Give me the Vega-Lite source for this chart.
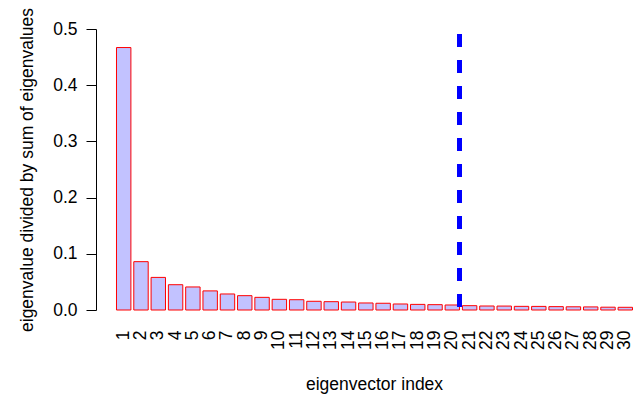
{
  "$schema": "https://vega.github.io/schema/vega-lite/v6.json",
  "autosize": "none",
  "padding": {"left": 96, "top": 29, "right": 0, "bottom": 86},
  "width": 544,
  "height": 281,
  "background": "white",
  "config": {
    "view": {"stroke": null},
    "font": "Liberation Sans",
    "axis": {"labelFont": "Liberation Sans", "titleFont": "Liberation Sans", "labelColor": "black", "titleColor": "black", "titleFontWeight": "normal", "labelFontSize": 17.5, "titleFontSize": 17.5, "grid": false}
  },
  "data": {"values": [
    {"index": 1, "ratio": 0.467},
    {"index": 2, "ratio": 0.086},
    {"index": 3, "ratio": 0.058},
    {"index": 4, "ratio": 0.045},
    {"index": 5, "ratio": 0.041},
    {"index": 6, "ratio": 0.034},
    {"index": 7, "ratio": 0.0285},
    {"index": 8, "ratio": 0.0255},
    {"index": 9, "ratio": 0.0225},
    {"index": 10, "ratio": 0.019},
    {"index": 11, "ratio": 0.0183},
    {"index": 12, "ratio": 0.0155},
    {"index": 13, "ratio": 0.0148},
    {"index": 14, "ratio": 0.0142},
    {"index": 15, "ratio": 0.0125},
    {"index": 16, "ratio": 0.012},
    {"index": 17, "ratio": 0.0107},
    {"index": 18, "ratio": 0.010},
    {"index": 19, "ratio": 0.0095},
    {"index": 20, "ratio": 0.0089},
    {"index": 21, "ratio": 0.0077},
    {"index": 22, "ratio": 0.0071},
    {"index": 23, "ratio": 0.007},
    {"index": 24, "ratio": 0.0065},
    {"index": 25, "ratio": 0.0064},
    {"index": 26, "ratio": 0.006},
    {"index": 27, "ratio": 0.0057},
    {"index": 28, "ratio": 0.0055},
    {"index": 29, "ratio": 0.005},
    {"index": 30, "ratio": 0.0048}
  ]},
  "layer": [
    {
      "mark": {"type": "bar", "fill": "#c2c2ff", "stroke": "#ff0000", "strokeWidth": 1},
      "encoding": {
        "x": {
          "field": "index", "type": "ordinal",
          "scale": {"paddingInner": 0.1667, "paddingOuter": 0.809, "align": 0.732},
          "axis": {
            "title": "eigenvector index",
            "labelAngle": 270,
            "ticks": false, "tickSize": 0, "domain": false,
            "labelPadding": 20,
            "titleX": 278, "titleY": 79, "titleBaseline": "alphabetic", "titleAnchor": null, "titleAlign": "center"
          }
        },
        "y": {
          "field": "ratio", "type": "quantitative",
          "scale": {"domain": [0, 0.5], "nice": false, "zero": true},
          "axis": {
            "title": "eigenvalue divided by sum of eigenvalues",
            "values": [0, 0.1, 0.2, 0.3, 0.4, 0.5],
            "format": ".1f",
            "labelAngle": 0,
            "tickSize": 10, "tickColor": "black", "domainColor": "black", "tickWidth": 1, "domainWidth": 1,
            "labelPadding": 9,
            "titlePadding": 16
          }
        }
      }
    },
    {
      "mark": {"type": "rule", "color": "#0000ff", "strokeWidth": 3.5, "strokeDash": [13, 13], "strokeCap": "butt"},
      "encoding": {
        "x": {"datum": 20, "type": "ordinal", "bandPosition": 1},
        "y": {"datum": 0.491},
        "y2": {"datum": 0}
      }
    }
  ]
}
